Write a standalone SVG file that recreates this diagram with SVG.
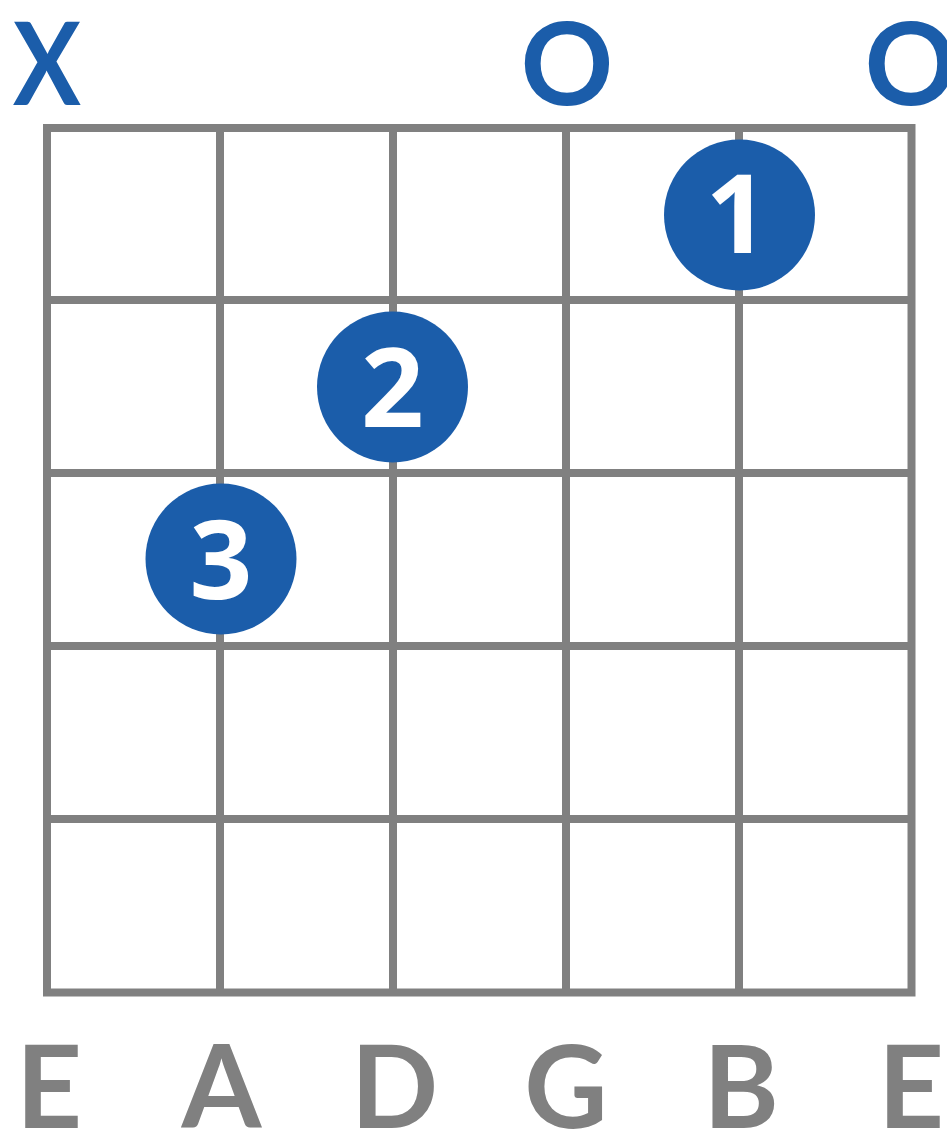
<svg xmlns="http://www.w3.org/2000/svg" width="947" height="1129" viewBox="0 0 947 1129">
<style>
.grid{stroke:#808080;stroke-width:8;fill:none}
.mark{font-family:Lato,"Liberation Sans",sans-serif;font-weight:bold;font-size:115px;fill:#1B5DAA;text-anchor:middle}
.finger{fill:#1B5DAA}
.num{font-family:"Open Sans","Liberation Sans",sans-serif;font-weight:bold;font-size:110px;fill:#ffffff;text-anchor:middle}
.str{font-family:Lato,"Liberation Sans",sans-serif;font-weight:bold;font-size:115px;fill:#808080;text-anchor:middle}
</style>
<rect width="947" height="1129" fill="#ffffff"/>
<g id="fretboard" class="grid">
<rect x="47" y="128" width="864.5" height="864.5"/>
<line x1="220" y1="128" x2="220" y2="992.5"/>
<line x1="393" y1="128" x2="393" y2="992.5"/>
<line x1="566" y1="128" x2="566" y2="992.5"/>
<line x1="739" y1="128" x2="739" y2="992.5"/>
<line x1="47" y1="300" x2="911.5" y2="300"/>
<line x1="47" y1="473" x2="911.5" y2="473"/>
<line x1="47" y1="646" x2="911.5" y2="646"/>
<line x1="47" y1="819" x2="911.5" y2="819"/>
</g>
<g id="connectors"></g>
<g id="string-markers">
<text class="mark" x="47" y="105" transform="translate(47 0) scale(0.88 1) translate(-47 0)">X</text>
<text class="mark" x="567" y="105">O</text>
<text class="mark" x="911" y="105">O</text>
</g>
<g id="finger-1">
<circle class="finger" cx="739.5" cy="215" r="75.5"/>
<text class="num" x="737" y="253">1</text>
</g>
<g id="finger-2">
<circle class="finger" cx="392.5" cy="387" r="75.5"/>
<text class="num" x="392.5" y="427">2</text>
</g>
<g id="finger-3">
<circle class="finger" cx="221" cy="559" r="75.5"/>
<text class="num" x="221" y="599">3</text>
</g>
<g id="string-names">
<text class="str" x="49" y="1128">E</text>
<text class="str" x="221.5" y="1128">A</text>
<text class="str" x="394.5" y="1128">D</text>
<text class="str" x="566" y="1128">G</text>
<text class="str" x="741" y="1128">B</text>
<text class="str" x="911" y="1128">E</text>
</g>
</svg>
